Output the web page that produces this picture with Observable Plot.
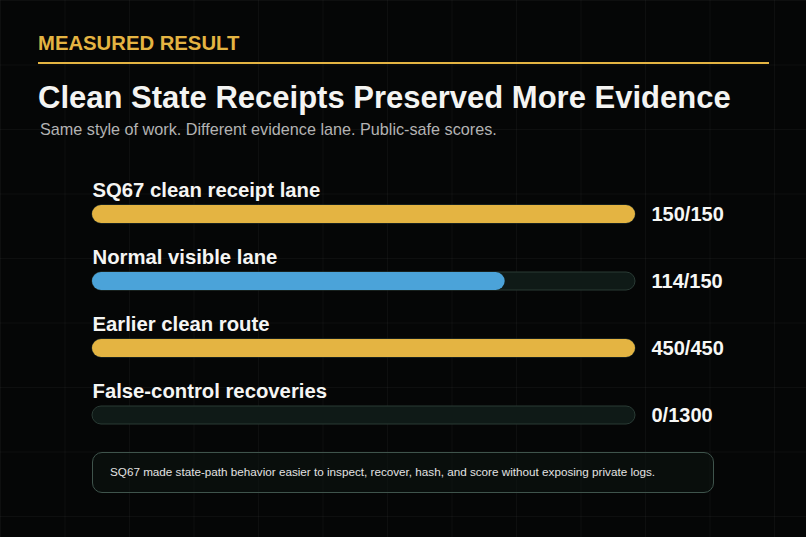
<!DOCTYPE html>
<html>
<head>
<meta charset="utf-8">
<script src="https://cdn.jsdelivr.net/npm/d3@7"></script>
<script src="https://cdn.jsdelivr.net/npm/@observablehq/plot@0.6"></script>
<style>
  html, body { margin: 0; padding: 0; }
  body {
    width: 806px; height: 537px; overflow: hidden; position: relative;
    background-color: #050606;
    background-image:
      linear-gradient(to right, rgba(255,255,255,0.035) 1px, transparent 1px),
      linear-gradient(to bottom, rgba(255,255,255,0.035) 1px, transparent 1px);
    background-size: 64.5px 64.5px;
    font-family: "Liberation Sans", Arial, Helvetica, sans-serif;
  }
  .abs { position: absolute; white-space: nowrap; line-height: 1; }
  #kicker { left: 38px; top: 33px; font-size: 20.3px; font-weight: bold; color: #e4b442; }
  #rule { position: absolute; left: 38px; top: 62px; width: 731px; height: 2px; background: #e4b442; }
  #title { left: 38px; top: 82px; font-size: 31px; font-weight: bold; color: #f4f4f2; }
  #subtitle { left: 40px; top: 120.5px; font-size: 16.2px; color: #b3b3b3; }
  #chart { position: absolute; left: 0; top: 170px; }
  #note {
    position: absolute; left: 92px; top: 452px; width: 620px; height: 39px;
    border: 1px solid #3f544c; border-radius: 10px; background: rgba(12,22,18,0.55);
  }
  #notetext { left: 17px; top: 13px; font-size: 11.7px; color: #e2e2e2; }
</style>
</head>
<body>
<div id="kicker" class="abs">MEASURED RESULT</div>
<div id="rule"></div>
<div id="title" class="abs">Clean State Receipts Preserved More Evidence</div>
<div id="subtitle" class="abs">Same style of work. Different evidence lane. Public-safe scores.</div>
<div id="chart"></div>
<div id="note"><div id="notetext" class="abs">SQ67 made state-path behavior easier to inspect, recover, hash, and score without exposing private logs.</div></div>
<script>
// ---- data ----
const labels = ["SQ67 clean receipt lane", "Normal visible lane", "Earlier clean route", "False-control recoveries"];
const values = [150, 114, 450, 0];
const totals = [150, 150, 450, 1300];
const kinds  = ["clean", "normal", "clean", "control"];

const rows = labels.map((label, i) => ({
  label, value: values[i], total: totals[i], kind: kinds[i], frac: values[i] / totals[i]
}));

const font = "'Liberation Sans', Arial, Helvetica, sans-serif";

const chart = Plot.plot({
  width: 806,
  height: 270,
  margin: 0,
  style: { background: "transparent", fontFamily: font, overflow: "visible" },
  x: { domain: [0, 1], range: [92, 635], axis: null },
  y: { domain: labels, range: [35, 254], paddingInner: 49 / 67, paddingOuter: 0, round: false, axis: null },
  color: { domain: ["clean", "normal", "control"], range: ["#e4b442", "#4ba3d9", "#1a2622"] },
  marks: [
    Plot.barX(rows, { x1: () => 0, x2: () => 1, y: "label", fill: "#0f1a17", stroke: "#2a3b35", strokeWidth: 1, rx: 9 }),
    Plot.barX(rows.filter(d => d.value > 0), { x1: () => 0, x2: "frac", y: "label", fill: "kind", rx: 9 }),
    Plot.text(rows, { x: () => 0, y: "label", text: "label", textAnchor: "start", lineAnchor: "middle", dy: -24,
      fill: "#f5f5f3", fontSize: 20.3, fontWeight: "bold", fontFamily: font }),
    Plot.text(rows, { x: () => 1, y: "label", text: d => `${d.value}/${d.total}`, textAnchor: "start", lineAnchor: "middle", dx: 16,
      fill: "#f7f7f5", fontSize: 20, fontWeight: "bold", fontFamily: font })
  ]
});
document.getElementById("chart").appendChild(chart);
</script>
</body>
</html>
